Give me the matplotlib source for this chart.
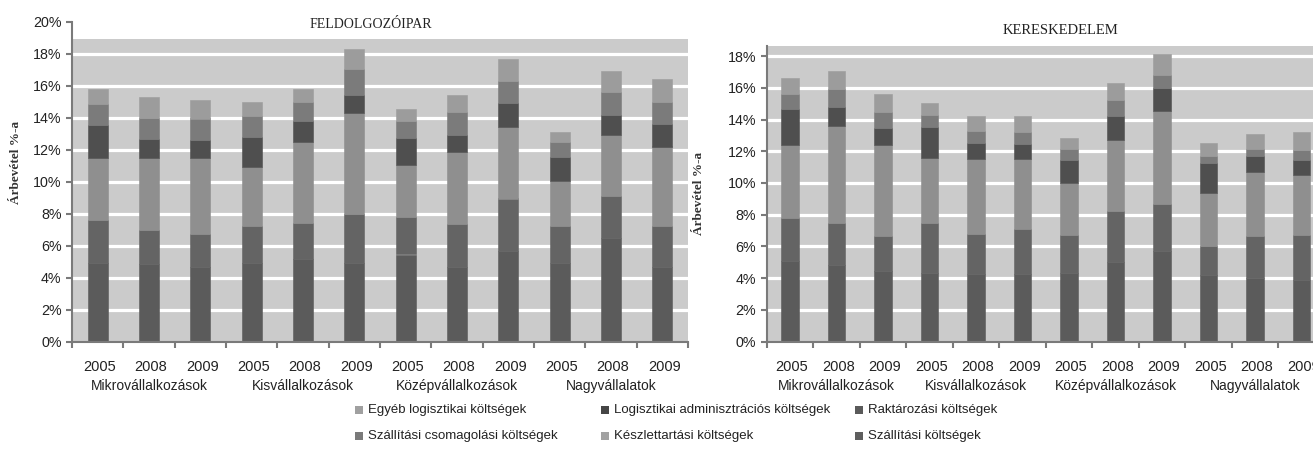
import matplotlib
matplotlib.use("Agg")
import matplotlib.pyplot as plt
import numpy as np
from matplotlib.patches import Rectangle

plt.rcParams['font.family'] = ['Liberation Sans', 'DejaVu Sans']

years = ["2005", "2008", "2009"]
groups = ["Mikrovállalkozások", "Kisvállalkozások", "Középvállalkozások", "Nagyvállalatok"]

# stacking order, bottom to top
series = ["Szállítási költségek", "Raktározási költségek", "Készlettartási költségek",
          "Logisztikai adminisztrációs költségek", "Szállítási csomagolási költségek",
          "Egyéb logisztikai költségek"]
colors = ["#5b5b5b", "#646464", "#8f8f8f", "#4f4f4f", "#7b7b7b", "#9c9c9c"]
legend_colors = ["#5e5e5e", "#5a5a5a", "#a2a2a2", "#464646", "#7a7a7a", "#a0a0a0"]

# FELDOLGOZÓIPAR, % of revenue (12 bars: 4 size groups x 3 years)
fel_szallitasi = [4.9, 4.85, 4.65, 4.9, 5.15, 4.9, 5.45, 4.65, 5.65, 4.9, 6.5, 4.65]
fel_raktarozasi = [2.7, 2.15, 2.1, 2.3, 2.25, 3.1, 2.35, 2.7, 3.3, 2.3, 2.6, 2.55]
fel_keszlet = [3.85, 4.5, 4.75, 3.7, 5.1, 6.3, 3.25, 4.5, 4.5, 2.85, 3.8, 5.0]
fel_admin = [2.1, 1.2, 1.1, 1.9, 1.3, 1.1, 1.65, 1.05, 1.5, 1.5, 1.25, 1.4]
fel_csomag = [1.3, 1.3, 1.35, 1.3, 1.2, 1.65, 1.1, 1.45, 1.35, 0.95, 1.45, 1.4]
fel_egyeb = [0.95, 1.3, 1.15, 0.9, 0.8, 1.25, 0.75, 1.05, 1.35, 0.6, 1.3, 1.45]

# KERESKEDELEM
ker_szallitasi = [5.1, 4.85, 4.45, 4.3, 4.25, 4.25, 4.3, 5.0, 5.7, 4.2, 4.0, 3.9]
ker_raktarozasi = [2.7, 2.65, 2.2, 3.15, 2.55, 2.85, 2.45, 3.25, 2.95, 1.8, 2.65, 2.85]
ker_keszlet = [4.6, 6.1, 5.75, 4.15, 4.7, 4.4, 3.25, 4.45, 5.9, 3.35, 4.05, 3.75]
ker_admin = [2.25, 1.2, 1.05, 1.9, 1.05, 0.95, 1.45, 1.5, 1.45, 1.9, 1.0, 0.95]
ker_csomag = [0.95, 1.1, 1.05, 0.8, 0.75, 0.75, 0.7, 1.05, 0.8, 0.45, 0.45, 0.6]
ker_egyeb = [1.0, 1.15, 1.1, 0.75, 0.95, 1.0, 0.7, 1.05, 1.3, 0.85, 0.95, 1.15]

fel_data = [fel_szallitasi, fel_raktarozasi, fel_keszlet, fel_admin, fel_csomag, fel_egyeb]
ker_data = [ker_szallitasi, ker_raktarozasi, ker_keszlet, ker_admin, ker_csomag, ker_egyeb]

W, H = 1313, 454
fig = plt.figure(figsize=(W / 100, H / 100), dpi=100)


def px_axes(x0, x1, y_bottom, y_top):
    return fig.add_axes([x0 / W, 1 - y_bottom / H, (x1 - x0) / W, (y_bottom - y_top) / H])


def draw_panel(ax, data, title, title_x, title_y, ymax, bg_top, bar_w, title_size, label_xy):
    n = len(data[0])
    x = np.arange(n)
    ax.set_facecolor("white")
    ax.axhspan(0, bg_top, color="#cbcbcb", zorder=0, lw=0)
    for g in range(2, int(bg_top) + 1, 2):
        ax.axhline(g, color="white", lw=2.3, zorder=1)
    bottom = np.zeros(n)
    for vals, c in zip(data, colors):
        ax.bar(x, vals, bar_w, bottom=bottom, color=c, edgecolor=c, lw=0.4, zorder=2)
        bottom += np.array(vals)

    ax.set_xlim(-0.5, n - 0.5)
    ax.set_ylim(0, ymax)
    ax.set_yticks(range(0, int(ymax) + 1, 2))
    ax.set_yticklabels([f"{t}%" for t in range(0, int(ymax) + 1, 2)], fontsize=10.3,
                       color="#222222")
    ax.set_xticks(np.arange(-0.5, n, 1))
    ax.set_xticklabels([])
    ax.tick_params(axis="both", length=4, width=1.5, color="#7a7a7a", direction="out")
    for s in ("top", "right"):
        ax.spines[s].set_visible(False)
    for s in ("left", "bottom"):
        ax.spines[s].set_color("#7a7a7a")
        ax.spines[s].set_linewidth(1.5)

    for i in range(n):
        ax.annotate(years[i % 3], xy=(i, 0), xycoords=("data", "axes fraction"),
                    xytext=(2, -25), textcoords="offset pixels",
                    ha="center", va="center", fontsize=10.5, color="#222222")
    for k, name in enumerate(groups):
        ax.annotate(name, xy=(3 * k + 1, 0), xycoords=("data", "axes fraction"),
                    xytext=(0, -44), textcoords="offset pixels",
                    ha="center", va="center", fontsize=10, color="#222222")

    fig.text(title_x / W, 1 - title_y / H, title, ha="center", va="center",
             fontsize=title_size, family="Liberation Serif", color="#222222")
    ax.set_ylabel("Árbevétel %-a", fontsize=9.5, family="Liberation Serif",
                  fontweight="bold", color="#333333")
    ax.yaxis.set_label_coords(*label_xy)


ax1 = px_axes(72, 688, 341.7, 21.7)
draw_panel(ax1, fel_data, "FELDOLGOZÓIPAR", 371, 24, 20, 18.9, 0.39, 10, (-0.081, 0.56))

ax2 = px_axes(766.7, 1324.7, 341.7, 45.7)
draw_panel(ax2, ker_data, "KERESKEDELEM", 1060, 30, 18.65, 18.65, 0.37, 10.5, (-0.111, 0.5))

# legend laid out in three columns, two rows
legend_pos = {
    "Egyéb logisztikai költségek": (355, 410),
    "Szállítási csomagolási költségek": (355, 436),
    "Logisztikai adminisztrációs költségek": (601, 410),
    "Készlettartási költségek": (601, 436),
    "Raktározási költségek": (855, 410),
    "Szállítási költségek": (855, 436),
}
for name, c in zip(series, legend_colors):
    lx, ly = legend_pos[name]
    fig.patches.append(Rectangle((lx / W, 1 - (ly + 4) / H), 8 / W, 8 / H,
                                 transform=fig.transFigure, color=c, lw=0))
    fig.text((lx + 13) / W, 1 - ly / H, name, ha="left", va="center",
             fontsize=9.5, color="#222222")

fig.savefig("out.png", dpi=100)
